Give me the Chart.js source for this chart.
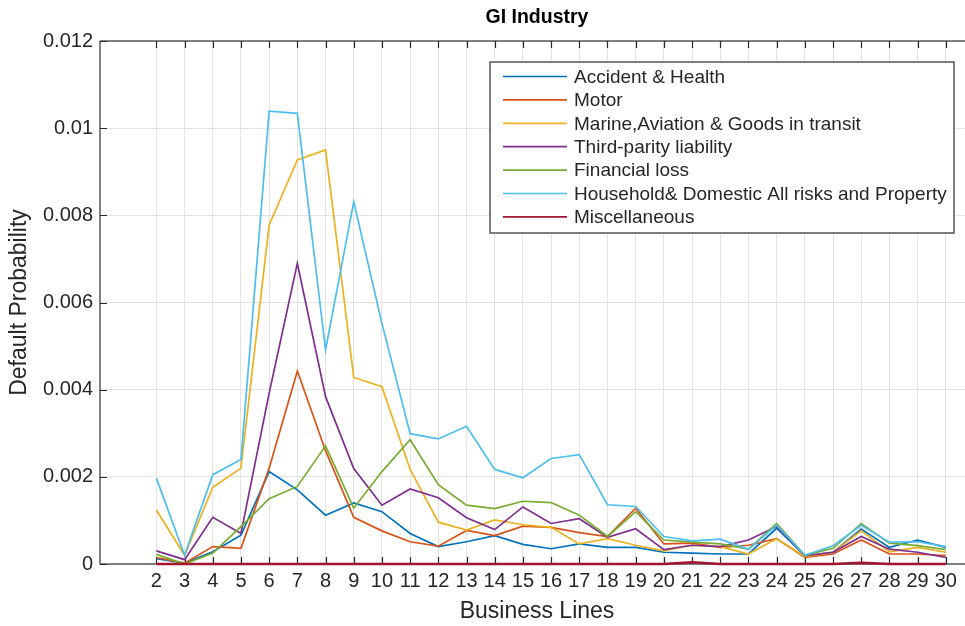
<!DOCTYPE html>
<html>
<head>
<meta charset="utf-8">
<script src="https://cdn.jsdelivr.net/npm/chart.js@4/dist/chart.umd.min.js"></script>
<style>
  html, body { margin: 0; padding: 0; background: #fff; overflow: hidden; }
  #wrap { width: 1000px; height: 626px; }
</style>
</head>
<body>
<div id="wrap"><canvas id="chart_1" width="1000" height="626"></canvas></div>
<script>
// business lines 2..30
const businessLines = [2, 3, 4, 5, 6, 7, 8, 9, 10, 11, 12, 13, 14, 15, 16, 17, 18, 19, 20, 21, 22, 23, 24, 25, 26, 27, 28, 29, 30];

const accidentHealth = [0.00012, 0.00002, 0.00028, 0.00066, 0.00212, 0.0017, 0.00112, 0.0014, 0.0012, 0.0007, 0.0004, 0.00051, 0.00065, 0.00045, 0.00035, 0.00046, 0.00038, 0.00038, 0.00027, 0.00025, 0.00023, 0.00023, 0.00082, 0.00019, 0.00027, 0.0008, 0.00038, 0.00055, 0.00038];
const motor = [0.00015, 0.00002, 0.0004, 0.00036, 0.0022, 0.00443, 0.0026, 0.00107, 0.00076, 0.00051, 0.00041, 0.00077, 0.00065, 0.00087, 0.00084, 0.00072, 0.00063, 0.00128, 0.00046, 0.00048, 0.00038, 0.00043, 0.00058, 0.00015, 0.00023, 0.00055, 0.00023, 0.00023, 0.00019];
const marine = [0.00124, 0.0002, 0.00176, 0.0022, 0.00778, 0.00927, 0.0095, 0.00428, 0.00407, 0.00217, 0.00096, 0.00078, 0.00101, 0.0009, 0.00084, 0.00046, 0.00058, 0.00043, 0.0003, 0.00043, 0.0004, 0.00023, 0.00058, 0.00017, 0.00027, 0.00076, 0.00028, 0.00038, 0.00027];
const thirdParty = [0.0003, 0.0001, 0.00107, 0.0007, 0.00392, 0.0069, 0.00384, 0.00219, 0.00135, 0.00172, 0.00152, 0.00106, 0.00079, 0.00131, 0.00093, 0.00104, 0.00061, 0.00081, 0.00033, 0.00043, 0.0004, 0.00055, 0.00086, 0.00019, 0.00027, 0.00063, 0.00034, 0.00027, 0.00015];
const financialLoss = [0.00022, 0.0, 0.00025, 0.00086, 0.0015, 0.00178, 0.00271, 0.00128, 0.00212, 0.00285, 0.00182, 0.00135, 0.00127, 0.00144, 0.00141, 0.00112, 0.00063, 0.0012, 0.00055, 0.0005, 0.00046, 0.00034, 0.00093, 0.0002, 0.00036, 0.00093, 0.00048, 0.00042, 0.00033];
const household = [0.00197, 0.0002, 0.00205, 0.0024, 0.01039, 0.01034, 0.00491, 0.00831, 0.00552, 0.00299, 0.00287, 0.00316, 0.00217, 0.00198, 0.00242, 0.00251, 0.00136, 0.00132, 0.00063, 0.00053, 0.00057, 0.00034, 0.00089, 0.0002, 0.00042, 0.00089, 0.0005, 0.00051, 0.0004];
const miscellaneous = [0, 0, 0, 0, 0, 0, 0, 0, 0, 0, 0, 0, 0, 0, 0, 0, 0, 0, 0, 0.00004, 0, 0, 0, 0, 0, 0.00003, 0, 0, 0];

const seriesNames = ["Accident & Health", "Motor", "Marine,Aviation & Goods in transit", "Third-parity liability", "Financial loss", "Household& Domestic All risks and Property", "Miscellaneous"];
const seriesData = [accidentHealth, motor, marine, thirdParty, financialLoss, household, miscellaneous];
const seriesColors = ["#0072BD", "#D95319", "#EDB120", "#7E2F8E", "#77AC30", "#4DBEEE", "#A2142F"];
const yTicks = [0, 0.002, 0.004, 0.006, 0.008, 0.01, 0.012];

const FONT = '"Liberation Sans", Arial, Helvetica, sans-serif';
const AXIS = "#5a5a5a";

function toPoints(values) {
  return values.map(function (v, i) { return { x: businessLines[i], y: v }; });
}

// axis box and inward ticks (matlab style) under the lines, legend box on top
const matlabAxes = {
  id: "matlabAxes",
  beforeDatasetsDraw: function (chart) {
    const ctx = chart.ctx;
    const a = chart.chartArea;
    const xs = chart.scales.x, ys = chart.scales.y;
    ctx.save();
    ctx.strokeStyle = AXIS;
    ctx.lineWidth = 1.5;
    ctx.beginPath();
    ctx.moveTo(a.left, a.top); ctx.lineTo(a.right, a.top);
    ctx.moveTo(a.left, a.bottom); ctx.lineTo(a.right, a.bottom);
    ctx.moveTo(a.left, a.top); ctx.lineTo(a.left, a.bottom);
    ctx.stroke();
    ctx.strokeStyle = "#262626";
    ctx.lineWidth = 1.2;
    ctx.beginPath();
    businessLines.forEach(function (b) {
      const px = Math.round(xs.getPixelForValue(b)) + 0.5;
      ctx.moveTo(px, a.bottom); ctx.lineTo(px, a.bottom - 7);
      ctx.moveTo(px, a.top); ctx.lineTo(px, a.top + 7);
    });
    yTicks.forEach(function (t) {
      const py = Math.round(ys.getPixelForValue(t)) + 0.5;
      ctx.moveTo(a.left, py); ctx.lineTo(a.left + 7, py);
    });
    ctx.stroke();
    ctx.restore();
  },
  afterDatasetsDraw: function (chart) {
    const ctx = chart.ctx;
    ctx.save();
    const lx = 490, ly = 62, lw = 464, lh = 171;
    ctx.fillStyle = "#ffffff";
    ctx.fillRect(lx, ly, lw, lh);
    ctx.strokeStyle = "#555555";
    ctx.lineWidth = 1.5;
    ctx.strokeRect(lx, ly, lw, lh);
    ctx.font = "19px " + FONT;
    ctx.textBaseline = "middle";
    ctx.textAlign = "left";
    seriesNames.forEach(function (name, i) {
      const ry = 76.5 + i * 23.4;
      ctx.strokeStyle = seriesColors[i];
      ctx.lineWidth = 1.7;
      ctx.beginPath();
      ctx.moveTo(503, ry); ctx.lineTo(567, ry);
      ctx.stroke();
      ctx.fillStyle = "#262626";
      ctx.fillText(name, 574, ry + 1);
    });
    ctx.restore();
  },
};

const ctx1 = document.getElementById("chart_1").getContext("2d");
const myChart1 = new Chart(ctx1, {
  type: "line",
  data: {
    datasets: seriesNames.map(function (name, i) {
      return {
        label: name,
        data: toPoints(seriesData[i]),
        borderColor: seriesColors[i],
        backgroundColor: seriesColors[i],
        borderWidth: i === 6 ? 2.5 : 1.7,
        pointRadius: 0,
        fill: false,
        tension: 0,
        clip: 4,
        order: seriesNames.length - i,
      };
    }),
  },
  options: {
    responsive: false,
    animation: false,
    devicePixelRatio: 1,
    layout: { padding: { left: 0, right: 26, top: 0, bottom: 0 } },
    plugins: {
      legend: { display: false },
      tooltip: { enabled: false },
      title: {
        display: true,
        text: "GI Industry",
        fullSize: false,
        color: "#000",
        font: { family: FONT, size: 19.5, weight: "bold" },
        padding: { top: 6, bottom: 11.6 },
      },
    },
    scales: {
      x: {
        type: "linear",
        min: 0,
        max: 31,
        afterFit: function (scale) { scale.height = 62; },
        afterBuildTicks: function (scale) {
          scale.ticks = businessLines.map(function (b) { return { value: b }; });
        },
        ticks: {
          color: "#262626",
          font: { family: FONT, size: 20 },
          padding: 5,
          maxRotation: 0,
          autoSkip: false,
          callback: function (value) { return String(value); },
        },
        grid: { color: "#e3e3e3", lineWidth: 1, drawTicks: false },
        border: { display: false },
        title: {
          display: true,
          text: "Business Lines",
          color: "#262626",
          font: { family: FONT, size: 23 },
          padding: { top: 0, bottom: 1 },
        },
      },
      y: {
        min: 0,
        max: 0.012,
        afterFit: function (scale) { scale.width = 100; },
        afterBuildTicks: function (scale) {
          scale.ticks = yTicks.map(function (t) { return { value: t }; });
        },
        ticks: {
          color: "#262626",
          font: { family: FONT, size: 20 },
          padding: 7,
          callback: function (value) { return String(+Number(value).toFixed(3)); },
        },
        grid: { color: "#e3e3e3", lineWidth: 1, drawTicks: false },
        border: { display: false },
        title: {
          display: true,
          text: "Default Probability",
          color: "#262626",
          font: { family: FONT, size: 23 },
          padding: { top: 6, bottom: 0 },
        },
      },
    },
  },
  plugins: [matlabAxes],
});
</script>
</body>
</html>
